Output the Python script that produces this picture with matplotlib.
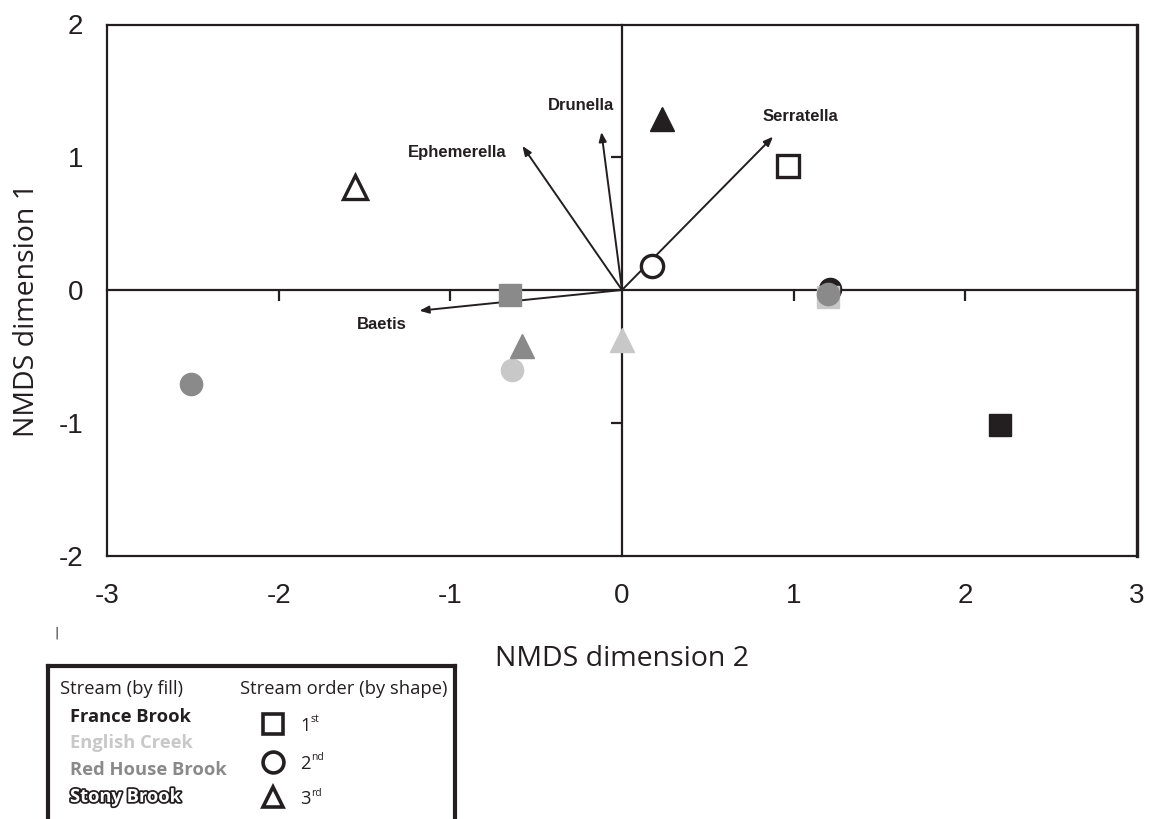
import matplotlib
matplotlib.use("Agg")
import matplotlib.pyplot as plt
from matplotlib.lines import Line2D
import matplotlib.patheffects as pe

plt.rcParams["axes.unicode_minus"] = False

# ---------------- data ----------------
streams = ["France Brook", "English Creek", "Red House Brook", "Stony Brook"]
stream_colors = ["#231f20", "#c8c8c8", "#8a8a8a", "white"]
stream_edges = ["#231f20", "#c8c8c8", "#8a8a8a", "#231f20"]

orders = ["1st", "2nd", "3rd"]
order_markers = ["s", "o", "^"]

# site scores (plot order matters for overlaps)
site_stream = ["Stony Brook", "France Brook", "Stony Brook", "Stony Brook",
               "Red House Brook", "Red House Brook", "English Creek", "English Creek",
               "Red House Brook", "France Brook", "English Creek", "Red House Brook",
               "France Brook"]
site_order = ["3rd", "3rd", "1st", "2nd",
              "1st", "2nd", "3rd", "2nd",
              "3rd", "2nd", "1st", "2nd",
              "1st"]
site_dim2 = [-1.557, 0.232, 0.965, 0.174,
             -0.655, -2.51, 0.00, -0.64,
             -0.58, 1.21, 1.20, 1.20,
             2.20]
site_dim1 = [0.776, 1.29, 0.935, 0.18,
             -0.04, -0.71, -0.38, -0.60,
             -0.42, 0.01, -0.05, -0.03,
             -1.02]

# species vectors
species = ["Baetis", "Ephemerella", "Drunella", "Serratella"]
vec_dim2 = [-1.18, -0.58, -0.12, 0.88]
vec_dim1 = [-0.156, 1.085, 1.19, 1.155]
lab_dim2 = [-1.40, -0.96, -0.24, 1.04]
lab_dim1 = [-0.26, 1.035, 1.39, 1.31]

x_ticks = [-3, -2, -1, 0, 1, 2, 3]
y_ticks = [-2, -1, 0, 1, 2]
x_inner_ticks = [-2, -1, 1, 2]
y_inner_ticks = [-1, 1]

# ---------------- figure ----------------
fig = plt.figure(figsize=(11.5, 8.19), dpi=100)
pos = [107 / 1150, 1 - 555.5 / 819, (1137 - 107) / 1150, (555.5 - 24.5) / 819]

# frame axes with outer tick labels
axf = fig.add_axes(pos)
axf.set_xlim(-3, 3)
axf.set_ylim(-2, 2)
axf.set_xticks(x_ticks)
axf.set_yticks(y_ticks)
axf.tick_params(length=0, labelsize=20)
axf.tick_params(axis="x", pad=20)
axf.tick_params(axis="y", pad=17)
for lab in axf.get_xticklabels() + axf.get_yticklabels():
    lab.set_fontfamily("Liberation Sans")
    lab.set_color("#231f20")
for s in axf.spines.values():
    s.set_linewidth(1.6)
    s.set_color("#231f20")
axf.spines["right"].set_linewidth(2.4)
axf.set_xlabel("NMDS dimension 2", fontsize=20.5, family="Open Sans",
               color="#231f20", labelpad=26)
axf.set_ylabel("NMDS dimension 1", fontsize=20.5, family="Open Sans",
               color="#231f20")
axf.yaxis.set_label_coords(-0.064, 0.462)

# inner axes with zero-crossing lines
ax = fig.add_axes(pos)
ax.patch.set_alpha(0)
ax.set_xlim(-3, 3)
ax.set_ylim(-2, 2)
ax.spines["left"].set_position("zero")
ax.spines["bottom"].set_position("zero")
ax.spines["top"].set_visible(False)
ax.spines["right"].set_visible(False)
for k in ["left", "bottom"]:
    ax.spines[k].set_linewidth(1.6)
    ax.spines[k].set_color("#231f20")
ax.set_xticks(x_inner_ticks)
ax.set_yticks(y_inner_ticks)
ax.tick_params(direction="out", length=8, width=1.6, color="#231f20",
               labelbottom=False, labelleft=False)

# species arrows
for sp, vx, vy, lx, ly in zip(species, vec_dim2, vec_dim1, lab_dim2, lab_dim1):
    ax.annotate("", xy=(vx, vy), xytext=(0, 0),
                arrowprops=dict(arrowstyle="-|>,head_length=0.55,head_width=0.22",
                                color="#231f20", lw=1.4, shrinkA=0, shrinkB=0))
    ax.text(lx, ly, sp, fontsize=12, fontweight="bold", family="Liberation Sans",
            ha="center", va="center", color="#231f20")

# sites
for st, od, x, y in zip(site_stream, site_order, site_dim2, site_dim1):
    i = streams.index(st)
    m = order_markers[orders.index(od)]
    ms = 17 if m == "^" else 16
    ax.plot([x], [y], marker=m, ms=ms, mfc=stream_colors[i], mec=stream_edges[i],
            mew=2.4 if st == "Stony Brook" else 1.0, ls="none", zorder=5)

# ---------------- legend (custom box) ----------------
L, R, T = 48 / 1150, 455 / 1150, 1 - 666 / 819
box_kw = dict(color="#231f20", lw=3, transform=fig.transFigure, clip_on=False)
fig.add_artist(Line2D([L, R], [T, T], **box_kw))
fig.add_artist(Line2D([L, L], [T, -0.01], **box_kw))
fig.add_artist(Line2D([R, R], [T, -0.01], **box_kw))

def fy(py):
    return 1 - py / 819

fig.text(60 / 1150, fy(689), "Stream (by fill)", fontsize=13.2, family="Open Sans",
         va="center", ha="left", color="#231f20")
fig.text(240 / 1150, fy(689), "Stream order (by shape)", fontsize=13.2,
         family="Open Sans", va="center", ha="left", color="#231f20")

leg_y = [717, 743, 770, 797]
for st, c, py in zip(streams, stream_colors, leg_y):
    if st == "Stony Brook":
        fig.text(70 / 1150, fy(py), st, fontsize=13.2, family="Open Sans",
                 fontweight="bold", va="center", ha="left", color="white",
                 path_effects=[pe.withStroke(linewidth=2.5, foreground="#231f20")])
    else:
        fig.text(70 / 1150, fy(py), st, fontsize=13.2, family="Open Sans",
                 fontweight="bold", va="center", ha="left", color=c)

shape_y = [724, 762, 797]
sups = ["st", "nd", "rd"]
for od, m, py, sup in zip(orders, order_markers, shape_y, sups):
    fig.add_artist(Line2D([273 / 1150], [fy(py)], marker=m, ms=15, mfc="white",
                          mec="#231f20", mew=2.6, ls="none",
                          transform=fig.transFigure))
    fig.text(300 / 1150, fy(py + 2), od[0], fontsize=13.2, family="Open Sans",
             va="center", ha="left", color="#231f20")
    fig.text(311 / 1150, fy(py - 4), sup, fontsize=7.5, family="Open Sans",
             va="center", ha="left", color="#231f20")

# small stray mark in original
fig.text(57 / 1150, fy(633), "|", fontsize=9, color="#231f20", ha="center",
         va="center")

fig.savefig("out.png", dpi=100)
